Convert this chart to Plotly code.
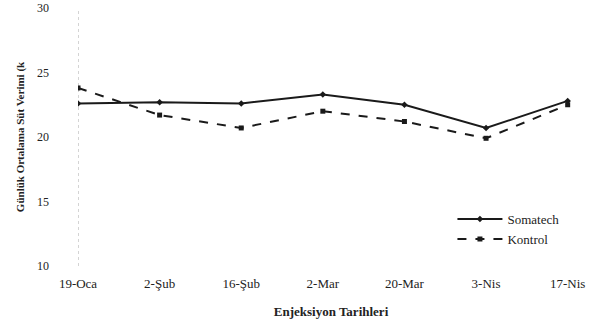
import plotly.graph_objects as go

dates = ["19-Oca", "2-Şub", "16-Şub", "2-Mar", "20-Mar", "3-Nis", "17-Nis"]
somatech = [22.6, 22.7, 22.6, 23.3, 22.5, 20.7, 22.8]
kontrol = [23.8, 21.7, 20.7, 22.0, 21.2, 19.9, 22.5]
y_ticks = [10, 15, 20, 25, 30]

xs = list(range(len(dates)))
font_family = "Liberation Serif, serif"

fig = go.Figure()
fig.add_trace(go.Scatter(
    x=xs, y=somatech, name="Somatech", mode="lines+markers",
    line=dict(color="#1a1a1a", width=2),
    marker=dict(symbol="diamond", size=5, color="#1a1a1a"),
))
fig.add_trace(go.Scatter(
    x=xs, y=kontrol, name="Kontrol", mode="lines+markers",
    line=dict(color="#1a1a1a", width=2, dash="dash"),
    marker=dict(symbol="square", size=5, color="#1a1a1a"),
))

fig.add_shape(type="line", xref="x", yref="paper", x0=0, x1=0, y0=0, y1=1,
              line=dict(color="#aaa", width=1, dash="dot"), layer="below")

fig.update_layout(
    width=603, height=325,
    margin=dict(l=78, r=19, t=8, b=59),
    paper_bgcolor="white", plot_bgcolor="white",
    font=dict(family=font_family, color="#222", size=12),
    showlegend=True,
    legend=dict(x=0.74, y=0.24, xanchor="left", yanchor="top",
                bgcolor="rgba(0,0,0,0)", font=dict(size=13, color="#222"),
                tracegroupgap=0, itemwidth=45),
    xaxis=dict(
        tickmode="array", tickvals=xs, ticktext=dates,
        range=[0, 6.2], showgrid=False, zeroline=False, showline=False,
        ticks="", tickfont=dict(size=13), automargin=False,
        ticklabelstandoff=8,
        title=dict(text="<b>Enjeksiyon Tarihleri</b>",
                   font=dict(size=13), standoff=16),
    ),
    yaxis=dict(
        range=[10, 30], tickvals=y_ticks, showgrid=False, zeroline=False,
        showline=False, automargin=False,
        ticks="", tickfont=dict(size=12), ticklabelstandoff=28,
        title=dict(text="<b>Günlük Ortalama Süt Verimi (k</b>",
                   font=dict(size=11), standoff=10),
    ),
)

fig.write_html("out.html", config={"displayModeBar": False},
               post_script="document.body.style.margin='0';document.body.style.padding='0';")
